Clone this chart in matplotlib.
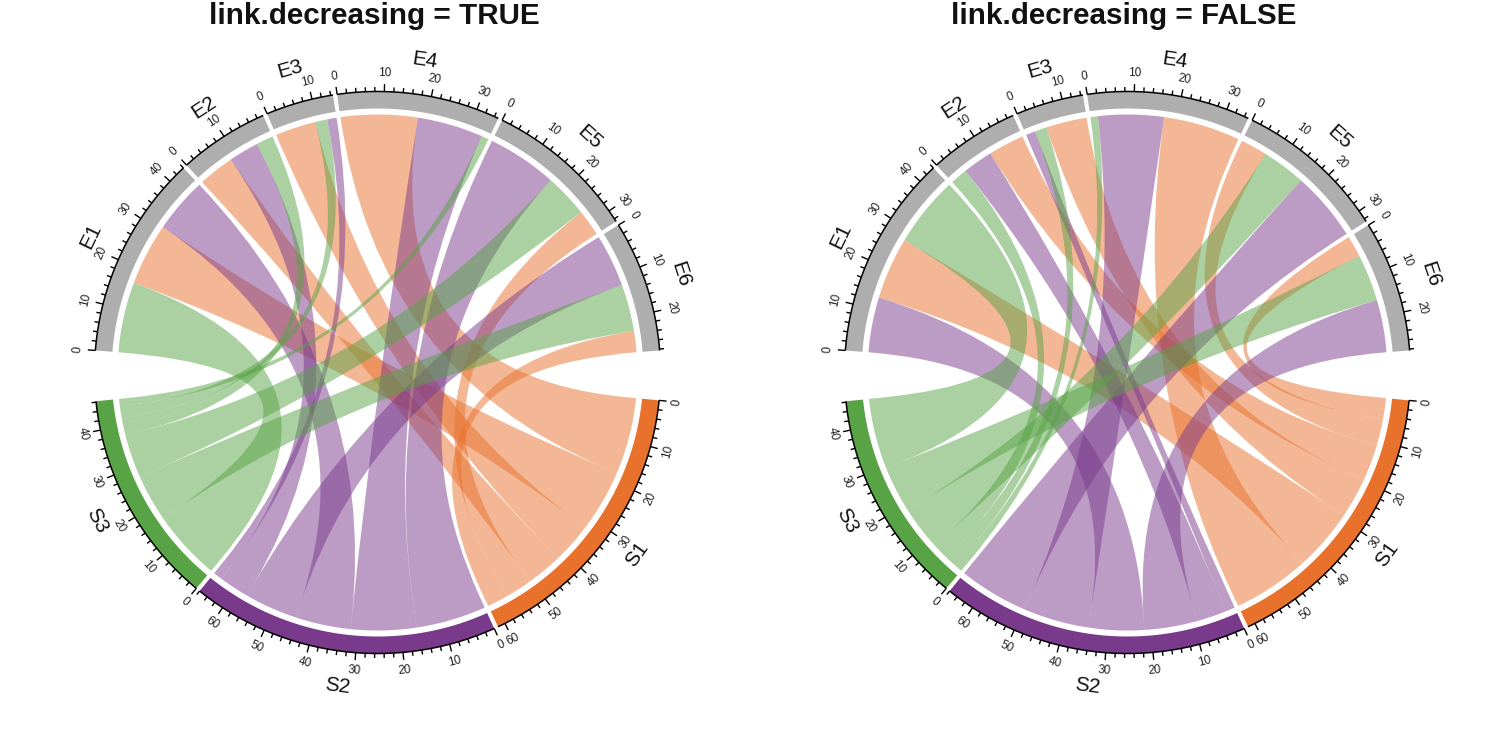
import numpy as np
import matplotlib
matplotlib.use("Agg")
import matplotlib.pyplot as plt
from matplotlib.path import Path
from matplotlib.patches import PathPatch

plt.rcParams['font.family'] = ['Liberation Sans', 'DejaVu Sans']

S_NAMES = ["S1", "S2", "S3"]
E_NAMES = ["E1", "E2", "E3", "E4", "E5", "E6"]
S1_VALUES = [14.6, 8.4, 9.5, 17.9, 6.2, 5.0]
S2_VALUES = [12.9, 7.0, 2.2, 15.3, 16.3, 12.3]
S3_VALUES = [16.5, 4.0, 2.8, 1.7, 10.2, 11.0]
S_COLORS = ["#E8712C", "#7A3A8C", "#58A346"]
E_COLOR = "#AEAEAE"
TITLES = ["link.decreasing = TRUE", "link.decreasing = FALSE"]
DECREASING = [True, False]

W, H = 1500, 743
CX = 377.5
CY = 372.5
RX, RY = 283.0, 281.0
R_BASE = 1.0
R_TRACK = 264 / 281
R_RIM = 258 / 281
R_NECK = 245 / 281
TOP_START, TOP_END = 175.5, 4.5
BOT_START = -5.7
GAP = 0.86


def pol(r, deg):
    t = np.deg2rad(deg)
    return r * np.cos(t), r * np.sin(t)


def arc(r, a0, a1):
    n = max(int(abs(a1 - a0) * 2), 2)
    return [pol(r, a) for a in np.linspace(a0, a1, n)]


def ring(ax, a0, a1, r0, r1, color):
    pts = arc(r1, a0, a1) + arc(r0, a1, a0)
    ax.fill([p[0] for p in pts], [p[1] for p in pts], color=color, lw=0, zorder=3)


def link(ax, e0, e1, s0, s1, color):
    verts, codes = [], []
    a = arc(R_RIM, e0, e1)
    verts += a
    codes += [Path.MOVETO] + [Path.LINETO] * (len(a) - 1)
    verts += [(0, 0), pol(R_NECK, s0)]
    codes += [Path.CURVE3, Path.CURVE3]
    b = arc(R_RIM, s0, s1)
    verts += b
    codes += [Path.LINETO] * len(b)
    verts += [pol(R_NECK, s1), (0, 0), pol(R_RIM, e0)]
    codes += [Path.LINETO, Path.CURVE3, Path.CURVE3]
    ax.add_patch(PathPatch(Path(verts, codes), facecolor=color, alpha=0.5, lw=0, zorder=2))


def sector_decor(ax, name, a0, a1, total, unit, color):
    ring(ax, a0, a1, R_TRACK, R_BASE, color)
    bx = arc(R_BASE, a0, a1)
    ax.plot([p[0] for p in bx], [p[1] for p in bx], color="black", lw=1.1, zorder=4,
            solid_capstyle="butt")
    for v in np.arange(0, total + 1e-6, 2):
        ang = a0 - v * unit
        major = int(v) % 10 == 0
        ln = (7.5 if major else 4.5) / 281
        p, q = pol(R_BASE, ang), pol(R_BASE + ln, ang)
        ax.plot([p[0], q[0]], [p[1], q[1]], color="black", lw=1.0, zorder=4,
                solid_capstyle="butt")
        if major:
            x, y = pol(R_BASE + 18 / 281, ang)
            rot = ang - 90 if pol(1, ang)[1] > 0 else ang + 90
            ax.text(x, y, str(int(v)), fontsize=8.5, ha="center", va="center",
                    rotation=rot, rotation_mode="anchor", color="#222222")
    mid = (a0 + a1) / 2
    x, y = pol(R_BASE + 35 / 281, mid)
    rot = mid - 90 if pol(1, mid)[1] > 0 else mid + 90
    ax.text(x, y, name, fontsize=15, ha="center", va="center", rotation=rot,
            rotation_mode="anchor", color="#111111")


def chord(ax, decreasing):
    mat = np.array([S1_VALUES, S2_VALUES, S3_VALUES])
    e_tot = mat.sum(axis=0)
    s_tot = mat.sum(axis=1)
    unit = (TOP_START - TOP_END - GAP * (len(E_NAMES) - 1)) / e_tot.sum()

    e_start = {}
    a = TOP_START
    for j, name in enumerate(E_NAMES):
        e_start[j] = a
        sector_decor(ax, name, a, a - e_tot[j] * unit, e_tot[j], unit, E_COLOR)
        a -= e_tot[j] * unit + GAP
    s_start = {}
    a = BOT_START
    for i, name in enumerate(S_NAMES):
        s_start[i] = a
        sector_decor(ax, name, a, a - s_tot[i] * unit, s_tot[i], unit, S_COLORS[i])
        a -= s_tot[i] * unit + GAP

    sign = -1 if decreasing else 1
    e_pos, s_pos = {}, {}
    for j in range(len(E_NAMES)):
        a = e_start[j]
        for i in np.argsort(sign * mat[:, j]):
            e_pos[(i, j)] = (a, a - mat[i, j] * unit)
            a -= mat[i, j] * unit
    for i in range(len(S_NAMES)):
        a = s_start[i]
        for j in np.argsort(sign * mat[i, :]):
            s_pos[(i, j)] = (a, a - mat[i, j] * unit)
            a -= mat[i, j] * unit
    for i in range(len(S_NAMES)):
        for j in range(len(E_NAMES)):
            link(ax, *e_pos[(i, j)], *s_pos[(i, j)], S_COLORS[i])


fig = plt.figure(figsize=(W / 100, H / 100), dpi=100)
for k in range(2):
    ax = fig.add_axes([k * 0.5, 0, 0.5, 1])
    ax.set_xlim(-CX / RX, (W / 2 - CX) / RX)
    ax.set_ylim(-(H - CY) / RY, CY / RY)
    ax.axis("off")
    chord(ax, DECREASING[k])
    ax.text(-3.5 / RX, (CY - 16) / RY, TITLES[k], fontsize=21.3, fontweight="bold",
            ha="center", va="center", color="#111111")
fig.savefig("out.png", dpi=100)
